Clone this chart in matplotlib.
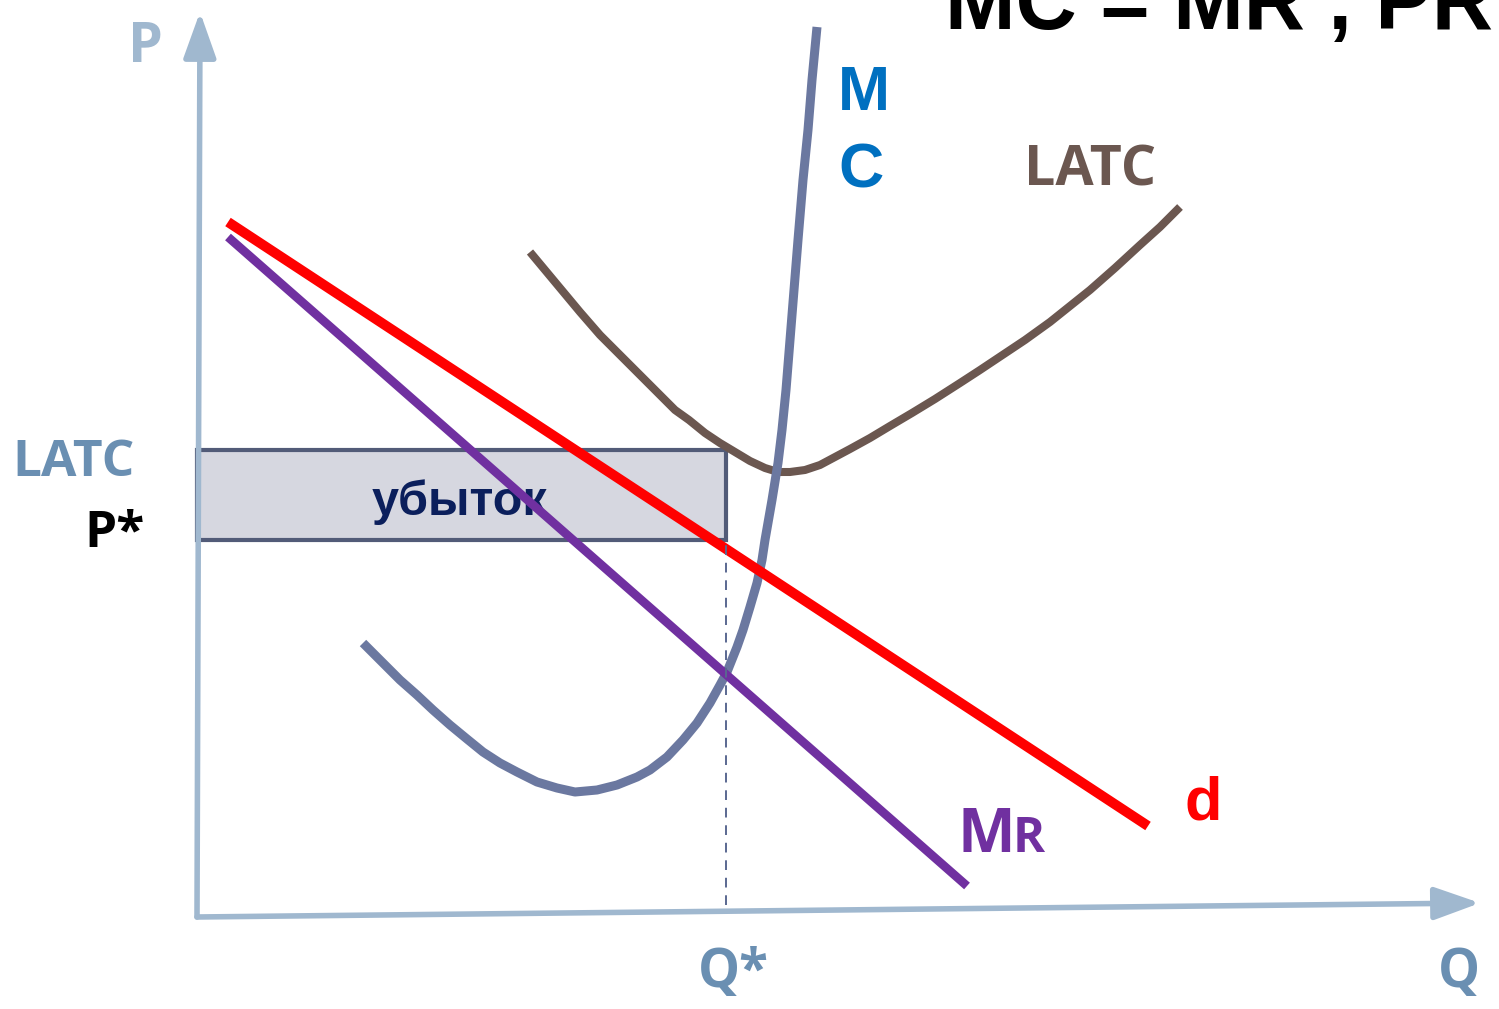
import matplotlib
matplotlib.use("Agg")
import matplotlib.pyplot as plt
import matplotlib.patches as mpatches

# ---- data (Q, P units; origin at the corner of the axes) ----
d_q = [3.1, 95.1]
d_p = [69.5, 9.1]

mr_q = [3.1, 77.0]
mr_p = [68.0, 3.1]

mc_q = [16.6, 18.6, 20.3, 22.0, 23.6, 25.3, 27.0, 28.6, 30.3, 32.0, 34.0,
        36.0, 37.8, 40.0, 42.0, 44.0, 45.3, 47.0, 48.6, 50.0, 51.3, 52.3,
        53.0, 54.0, 54.6, 55.3, 56.0, 56.5, 56.8, 57.5, 58.1, 58.5, 58.9,
        59.3, 59.7, 60.1, 60.6, 61.1, 61.5, 62.0]
mc_p = [27.4, 25.4, 23.7, 22.2, 20.7, 19.2, 17.8, 16.5, 15.4, 14.5, 13.5,
        12.9, 12.5, 12.7, 13.2, 14.0, 14.7, 16.0, 17.7, 19.4, 21.4, 23.2,
        24.5, 27.0, 28.7, 31.0, 33.4, 35.7, 37.7, 41.7, 45.4, 48.7, 52.7,
        57.7, 62.7, 67.7, 73.7, 78.7, 83.7, 89.0]

latc_q = [33.3, 35.8, 38.3, 40.3, 42.5, 44.5, 46.3, 47.8, 49.2, 50.8, 52.3,
          53.8, 55.3, 56.8, 58.1, 59.3, 60.8, 62.3, 63.8, 65.3, 67.3, 69.3,
          71.5, 73.8, 76.3, 78.3, 80.4, 82.8, 85.3, 87.3, 89.3, 91.8, 94.3,
          96.3, 98.3]
latc_p = [66.5, 63.5, 60.5, 58.2, 56.0, 54.0, 52.2, 50.7, 49.7, 48.4, 47.4,
          46.5, 45.6, 44.9, 44.5, 44.5, 44.7, 45.2, 46.0, 46.8, 47.9, 49.1,
          50.4, 51.8, 53.4, 54.7, 56.1, 57.7, 59.5, 61.1, 62.7, 64.9, 67.2,
          69.0, 71.0]

q_star = 52.9
p_star = 37.7
latc_level = 46.7

p_axis_q = [0.0, 0.3]
p_axis_p = [0.0, 90.5]
q_axis_q = [0.0, 128.3]
q_axis_p = [0.0, 1.4]
axis_floor = 1.2

# ---- colours ----
axis_col = '#A0B8CF'
axis_lab = '#6A8FB2'
mc_col = '#6B78A0'
latc_col = '#6B5750'
mr_col = '#7030A0'
box_fill = '#D6D7E0'
box_edge = '#525B78'

fig = plt.figure(figsize=(14.99, 10.09), dpi=100)
ax = fig.add_axes([0, 0, 1, 1])
ax.set_xlim(-19.7, 130.2)
ax.set_ylim(-9.2, 91.7)
ax.axis('off')

# axes with arrows
for xs, ys in [(p_axis_q, p_axis_p), (q_axis_q, q_axis_p)]:
    arr = mpatches.FancyArrowPatch((xs[0], ys[0]), (xs[1], ys[1]),
                                   arrowstyle='-|>,head_length=1.4,head_width=0.5',
                                   mutation_scale=20, lw=4.0, color=axis_col,
                                   shrinkA=0, shrinkB=0, zorder=2)
    ax.add_patch(arr)

# loss rectangle
rect = mpatches.Rectangle((0, p_star), q_star, latc_level - p_star,
                          facecolor=box_fill, edgecolor=box_edge, linewidth=3.0,
                          zorder=1)
ax.add_patch(rect)
ax.text(q_star / 2 - 0.2, 40.2, 'убыток', fontsize=35, fontweight='bold',
        family='Liberation Sans', color='#0B1F5C', ha='center', va='baseline',
        zorder=2)

# curves
curve_kw = dict(solid_capstyle='butt', solid_joinstyle='round')
ax.plot(latc_q, latc_p, color=latc_col, lw=5.8, zorder=3, **curve_kw)
ax.plot(mc_q, mc_p, color=mc_col, lw=6.5, zorder=4, **curve_kw)
ax.plot(d_q, d_p, color='#FF0000', lw=7.2, zorder=5, **curve_kw)
ax.plot(mr_q, mr_p, color=mr_col, lw=6.3, zorder=6, **curve_kw)
ax.plot([q_star, q_star], [axis_floor, p_star], color='#5A6890', lw=1.4,
        linestyle=(0, (5, 4)), zorder=7)

# labels
sans = 'Open Sans'
ax.text(-5.2, 85.5, 'P', fontsize=40, fontweight='bold', family=sans,
        color=axis_col, ha='center', va='baseline')
ax.text(126.2, -7.0, 'Q', fontsize=38, fontweight='bold', family=sans,
        color=axis_lab, ha='center', va='baseline')
ax.text(53.6, -7.0, 'Q*', fontsize=38, fontweight='bold', family=sans,
        color=axis_lab, ha='center', va='baseline')
ax.text(-18.5, 44.1, 'LATC', fontsize=37, fontweight='bold', family=sans,
        color=axis_lab, ha='left', va='baseline')
ax.text(-11.3, 37.0, 'P*', fontsize=37, fontweight='bold', family=sans,
        color='black', ha='left', va='baseline')

ax.text(64.1, 80.7, 'M', fontsize=45, fontweight='bold', family='Liberation Sans',
        color='#0070C0', ha='left', va='baseline')
ax.text(64.1, 73.0, 'C', fontsize=45, fontweight='bold', family='Liberation Sans',
        color='#0070C0', ha='left', va='baseline')
ax.text(82.7, 73.1, 'LATC', fontsize=40, fontweight='bold', family=sans,
        color=latc_col, ha='left', va='baseline')

ax.text(76.0, 6.5, 'M', fontsize=44, fontweight='bold', family=sans,
        color=mr_col, ha='left', va='baseline')
ax.text(81.6, 6.5, 'R', fontsize=35, fontweight='bold', family=sans,
        color=mr_col, ha='left', va='baseline')
ax.text(98.7, 9.7, 'd', fontsize=44, fontweight='bold', family='Liberation Sans',
        color='#FF0000', ha='left', va='baseline')

# title, cut by the top edge as in the slide
ax.text(74.8, 88.8, 'MC = MR , PR', fontsize=61, fontweight='bold',
        family='Liberation Sans', color='black', ha='left', va='baseline')

fig.savefig('out.png', dpi=100, facecolor='white')
